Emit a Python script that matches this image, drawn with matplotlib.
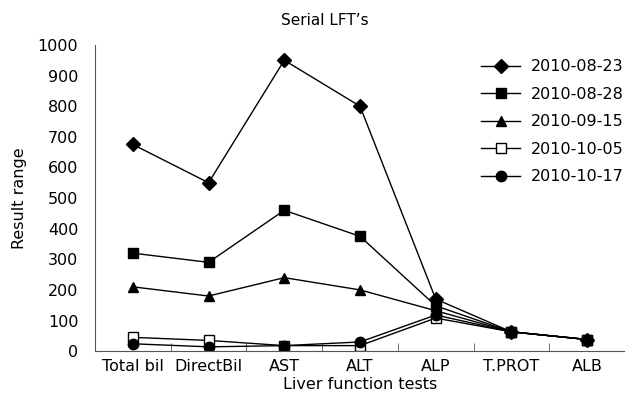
import numpy as np
import matplotlib
matplotlib.use("Agg")
import matplotlib.pyplot as plt
from matplotlib.ticker import MultipleLocator, FixedLocator

tests = ["Total bil", "DirectBil", "AST", "ALT", "ALP", "T.PROT", "ALB"]
d_0823 = [675, 550, 950, 800, 170, 63, 38]
d_0828 = [320, 290, 460, 375, 148, 63, 38]
d_0915 = [210, 180, 240, 200, 132, 63, 38]
d_1005 = [45, 35, 18, 18, 108, 63, 38]
d_1017 = [24, 14, 18, 30, 118, 63, 38]

series = [
    ("2010-08-23", d_0823, "D", "black", 7),
    ("2010-08-28", d_0828, "s", "black", 7),
    ("2010-09-15", d_0915, "^", "black", 7.5),
    ("2010-10-05", d_1005, "s", "white", 7),
    ("2010-10-17", d_1017, "o", "black", 7.5),
]

plt.rcParams['font.family'] = ['DejaVu Sans']
plt.rcParams['font.size'] = 11.5

fig = plt.figure(figsize=(6.25, 4.05), dpi=100)
ax = fig.add_axes([0.152, 0.133, 0.848, 0.756])

x = np.arange(len(tests))
for name, vals, mk, fc, ms in series:
    ax.plot(x, vals, color="black", lw=1, marker=mk, markersize=ms,
            markerfacecolor=fc, markeredgecolor="black", markeredgewidth=1,
            label=name)

ax.set_xlim(-0.5, len(tests) - 0.5)
ax.set_ylim(0, 1000)
ax.set_xticks(x)
ax.set_xticklabels(tests)
ax.xaxis.set_minor_locator(FixedLocator(np.arange(0.5, len(tests) - 1, 1)))
ax.tick_params(axis="x", which="major", length=0, pad=6)
ax.tick_params(axis="x", which="minor", direction="in", length=6, color="#555555")

ax.yaxis.set_major_locator(MultipleLocator(100))
ax.yaxis.set_minor_locator(MultipleLocator(200))
ax.tick_params(axis="y", which="major", length=0, pad=12)
ax.tick_params(axis="y", which="minor", direction="in", length=6, color="#555555")

for s in ["top", "right"]:
    ax.spines[s].set_visible(False)
for s in ["left", "bottom"]:
    ax.spines[s].set_color("#555555")

ax.set_xlabel("Liver function tests", labelpad=2)
ax.set_ylabel("Result range", labelpad=8)
fig.text(0.52, 0.95, "Serial LFT\u2019s", ha="center", va="center", fontsize=11)

ax.legend(loc="upper right", bbox_to_anchor=(1.025, 1.0), frameon=False,
          handlelength=2.4, handletextpad=0.7, labelspacing=0.78, fontsize=11.5)

fig.savefig("out.png", dpi=100)
